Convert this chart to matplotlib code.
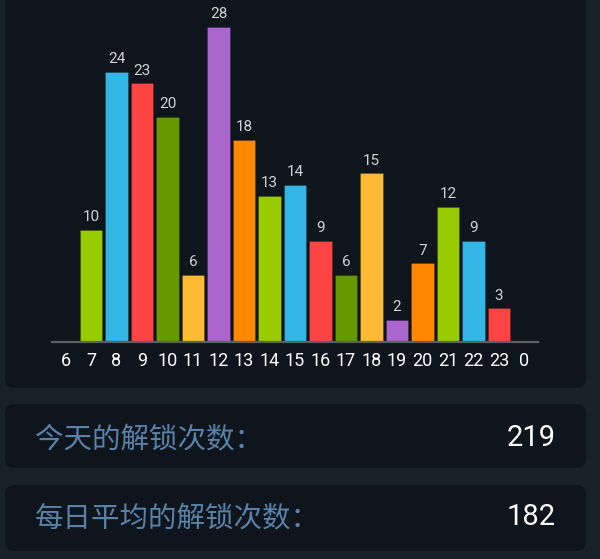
import matplotlib
matplotlib.use('Agg')
import matplotlib.pyplot as plt
from matplotlib.patches import FancyBboxPatch

# 每小时解锁次数
hours = ['6', '7', '8', '9', '10', '11', '12', '13', '14', '15', '16', '17',
         '18', '19', '20', '21', '22', '23', '0']
counts = [0, 10, 24, 23, 20, 6, 28, 18, 13, 14, 9, 6, 15, 2, 7, 12, 9, 3, 0]
palette = ['#ff8800', '#99cc00', '#33b5e5', '#ff4444', '#669900', '#ffbb33', '#aa66cc']

today_label = '今天的解锁次数：'
today_value = '219'
avg_label = '每日平均的解锁次数：'
avg_value = '182'

W, H = 600, 559
bg = '#16212a'
card = '#0e151c'

fig = plt.figure(figsize=(W / 100, H / 100), dpi=100)
fig.patch.set_facecolor(bg)


def px_box(x0, y0, x1, y1):
    # 像素坐标(左上原点) -> figure坐标
    return x0 / W, 1 - y1 / H, (x1 - x0) / W, (y1 - y0) / H


def add_card(y0, y1):
    x, y, w, h = px_box(5, y0, 586, y1)
    p = FancyBboxPatch((x, y), w, h, boxstyle='round,pad=0,rounding_size=0.016',
                       transform=fig.transFigure, facecolor=card, edgecolor='none',
                       mutation_aspect=W / H, zorder=-5)
    fig.patches.append(p)


add_card(-30, 388)
add_card(404, 468)
add_card(485, 551)

# 柱状图
ax = fig.add_axes(px_box(52, 4.5, 538, 342))
ax.set_zorder(2)
ax.set_facecolor('none')
xs = list(range(len(hours)))
colors = [palette[i % len(palette)] for i in xs]
bars = ax.bar(xs, counts, width=0.9, color=colors, edgecolor='#00000033', linewidth=0.6)
for x, v in zip(xs, counts):
    if v > 0:
        ax.annotate(str(v), (x, v), xytext=(0, 4), textcoords='offset points',
                    ha='center', va='bottom', color='#cfd3d6', fontsize=11,
                    family='Roboto')
ax.set_xlim(-0.53, len(hours) - 0.47)
ax.set_ylim(0, 30)
ax.set_xticks(xs)
ax.set_xticklabels(hours, family='Roboto', fontsize=13, color='white')
ax.tick_params(axis='x', length=0, pad=7.5)
ax.set_yticks([])
for s in ['top', 'right', 'left']:
    ax.spines[s].set_visible(False)
ax.spines['bottom'].set_color('#5a6066')
ax.spines['bottom'].set_linewidth(1.6)

# 底部统计
cjk = ['Noto Sans CJK SC', 'DejaVu Sans']
fig.text(35 / W, 1 - 440 / H, today_label, family=cjk, fontsize=20.5,
         color='#5a82a8', va='center', ha='left')
fig.text(556 / W, 1 - 438 / H, today_value, family='Roboto', fontsize=21,
         color='white', va='center', ha='right')
fig.text(35 / W, 1 - 519 / H, avg_label, family=cjk, fontsize=20.5,
         color='#5a82a8', va='center', ha='left')
fig.text(556 / W, 1 - 517 / H, avg_value, family='Roboto', fontsize=21,
         color='white', va='center', ha='right')

fig.savefig('out.png', dpi=100, facecolor=fig.get_facecolor())
